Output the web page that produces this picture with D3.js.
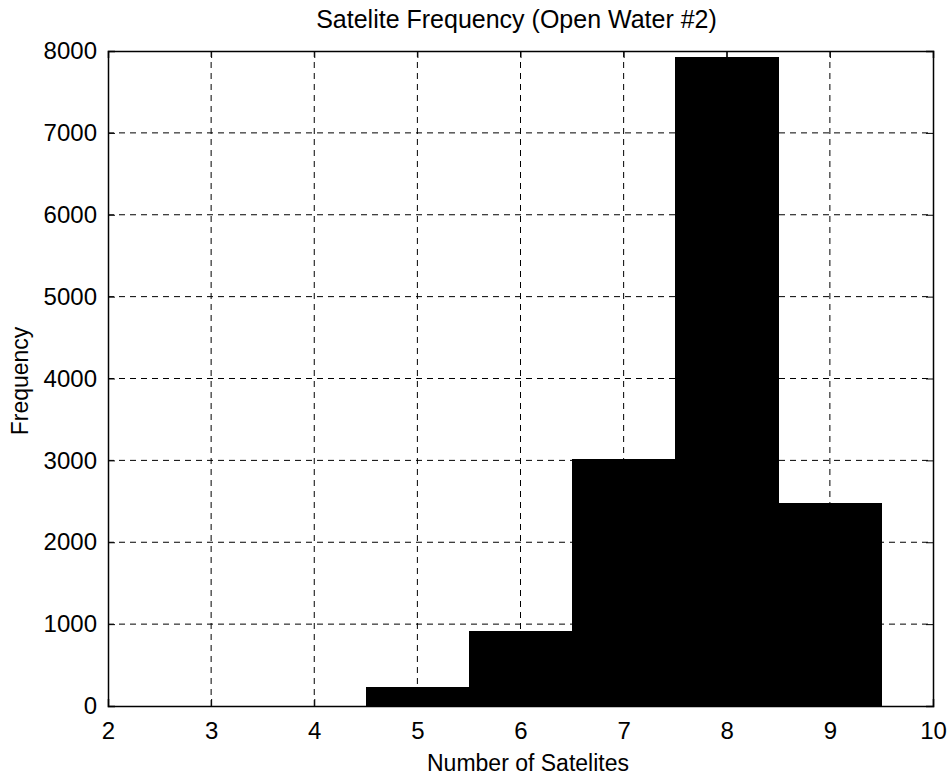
<!DOCTYPE html>
<html><head><meta charset="utf-8">
<script src="https://cdn.jsdelivr.net/npm/d3@7"></script>
<style>body{margin:0;background:#fff}svg{display:block}text{font-family:"Liberation Sans",Arial,sans-serif;fill:#000}</style>
</head><body><svg id="c" width="952" height="777"></svg>
<script>
const binCenters = [5, 6, 7, 8, 9];
const frequencies = [230, 920, 3020, 7930, 2480];
const xTicks = [2, 3, 4, 5, 6, 7, 8, 9, 10];
const yTicks = [0, 1000, 2000, 3000, 4000, 5000, 6000, 7000, 8000];
const titleText = "Satelite Frequency (Open Water #2)";
const xLabel = "Number of Satelites";
const yLabel = "Frequency";

const svg = d3.select("#c");
const L = 108, R = 933, T = 51, B = 706;
const x = d3.scaleLinear().domain([2, 10]).range([L, R]);
const y = d3.scaleLinear().domain([0, 8000]).range([B, T]);

// bars
svg.append("g").attr("shape-rendering", "crispEdges").selectAll("rect").data(binCenters).join("rect")
  .attr("x", (d) => x(d - 0.5))
  .attr("width", (d) => x(d + 0.5) - x(d - 0.5) + 0.5)
  .attr("y", (d, i) => y(frequencies[i]))
  .attr("height", (d, i) => B - y(frequencies[i]))
  .attr("fill", "#000");

// grid
const grid = svg.append("g").attr("stroke", "#000").attr("stroke-width", 1).attr("stroke-dasharray", "6,5").attr("fill", "none");
grid.selectAll("line.gx").data(xTicks.slice(1, -1)).join("line")
  .attr("x1", d => x(d)).attr("x2", d => x(d)).attr("y1", T).attr("y2", B);
grid.selectAll("line.gy").data(yTicks.slice(1, -1)).join("line")
  .attr("y1", d => y(d)).attr("y2", d => y(d)).attr("x1", L).attr("x2", R);

// axes
const xAxis = d3.axisBottom(x).tickValues(xTicks).tickSize(-7).tickPadding(16).tickFormat(d3.format("d"));
const yAxis = d3.axisLeft(y).tickValues(yTicks).tickSize(-7).tickPadding(11).tickFormat(d3.format("d"));
const gx = svg.append("g").attr("transform", `translate(0,${B})`).call(xAxis);
const gy = svg.append("g").attr("transform", `translate(${L},0)`).call(yAxis);
const gx2 = svg.append("g").attr("transform", `translate(0,${T})`).call(d3.axisTop(x).tickValues(xTicks).tickSize(-7).tickFormat(""));
const gy2 = svg.append("g").attr("transform", `translate(${R},0)`).call(d3.axisRight(y).tickValues(yTicks).tickSize(-7).tickFormat(""));
[gx, gy, gx2, gy2].forEach(g => {
  g.attr("font-size", 24).attr("font-family", "Liberation Sans, Arial, sans-serif");
  g.selectAll("path.domain").attr("stroke", "#000").attr("stroke-width", 1.5);
  g.selectAll(".tick line").attr("stroke", "#000");
  g.selectAll("text").attr("fill", "#000");
});

svg.append("text").attr("x", (L + R) / 2 - 4).attr("y", 28).attr("text-anchor", "middle").attr("font-size", 25).text(titleText);
svg.append("text").attr("x", 528).attr("y", 771).attr("text-anchor", "middle").attr("font-size", 23).text(xLabel);
svg.append("text").attr("transform", `translate(28,381) rotate(-90)`).attr("text-anchor", "middle").attr("font-size", 23).text(yLabel);
</script></body></html>
